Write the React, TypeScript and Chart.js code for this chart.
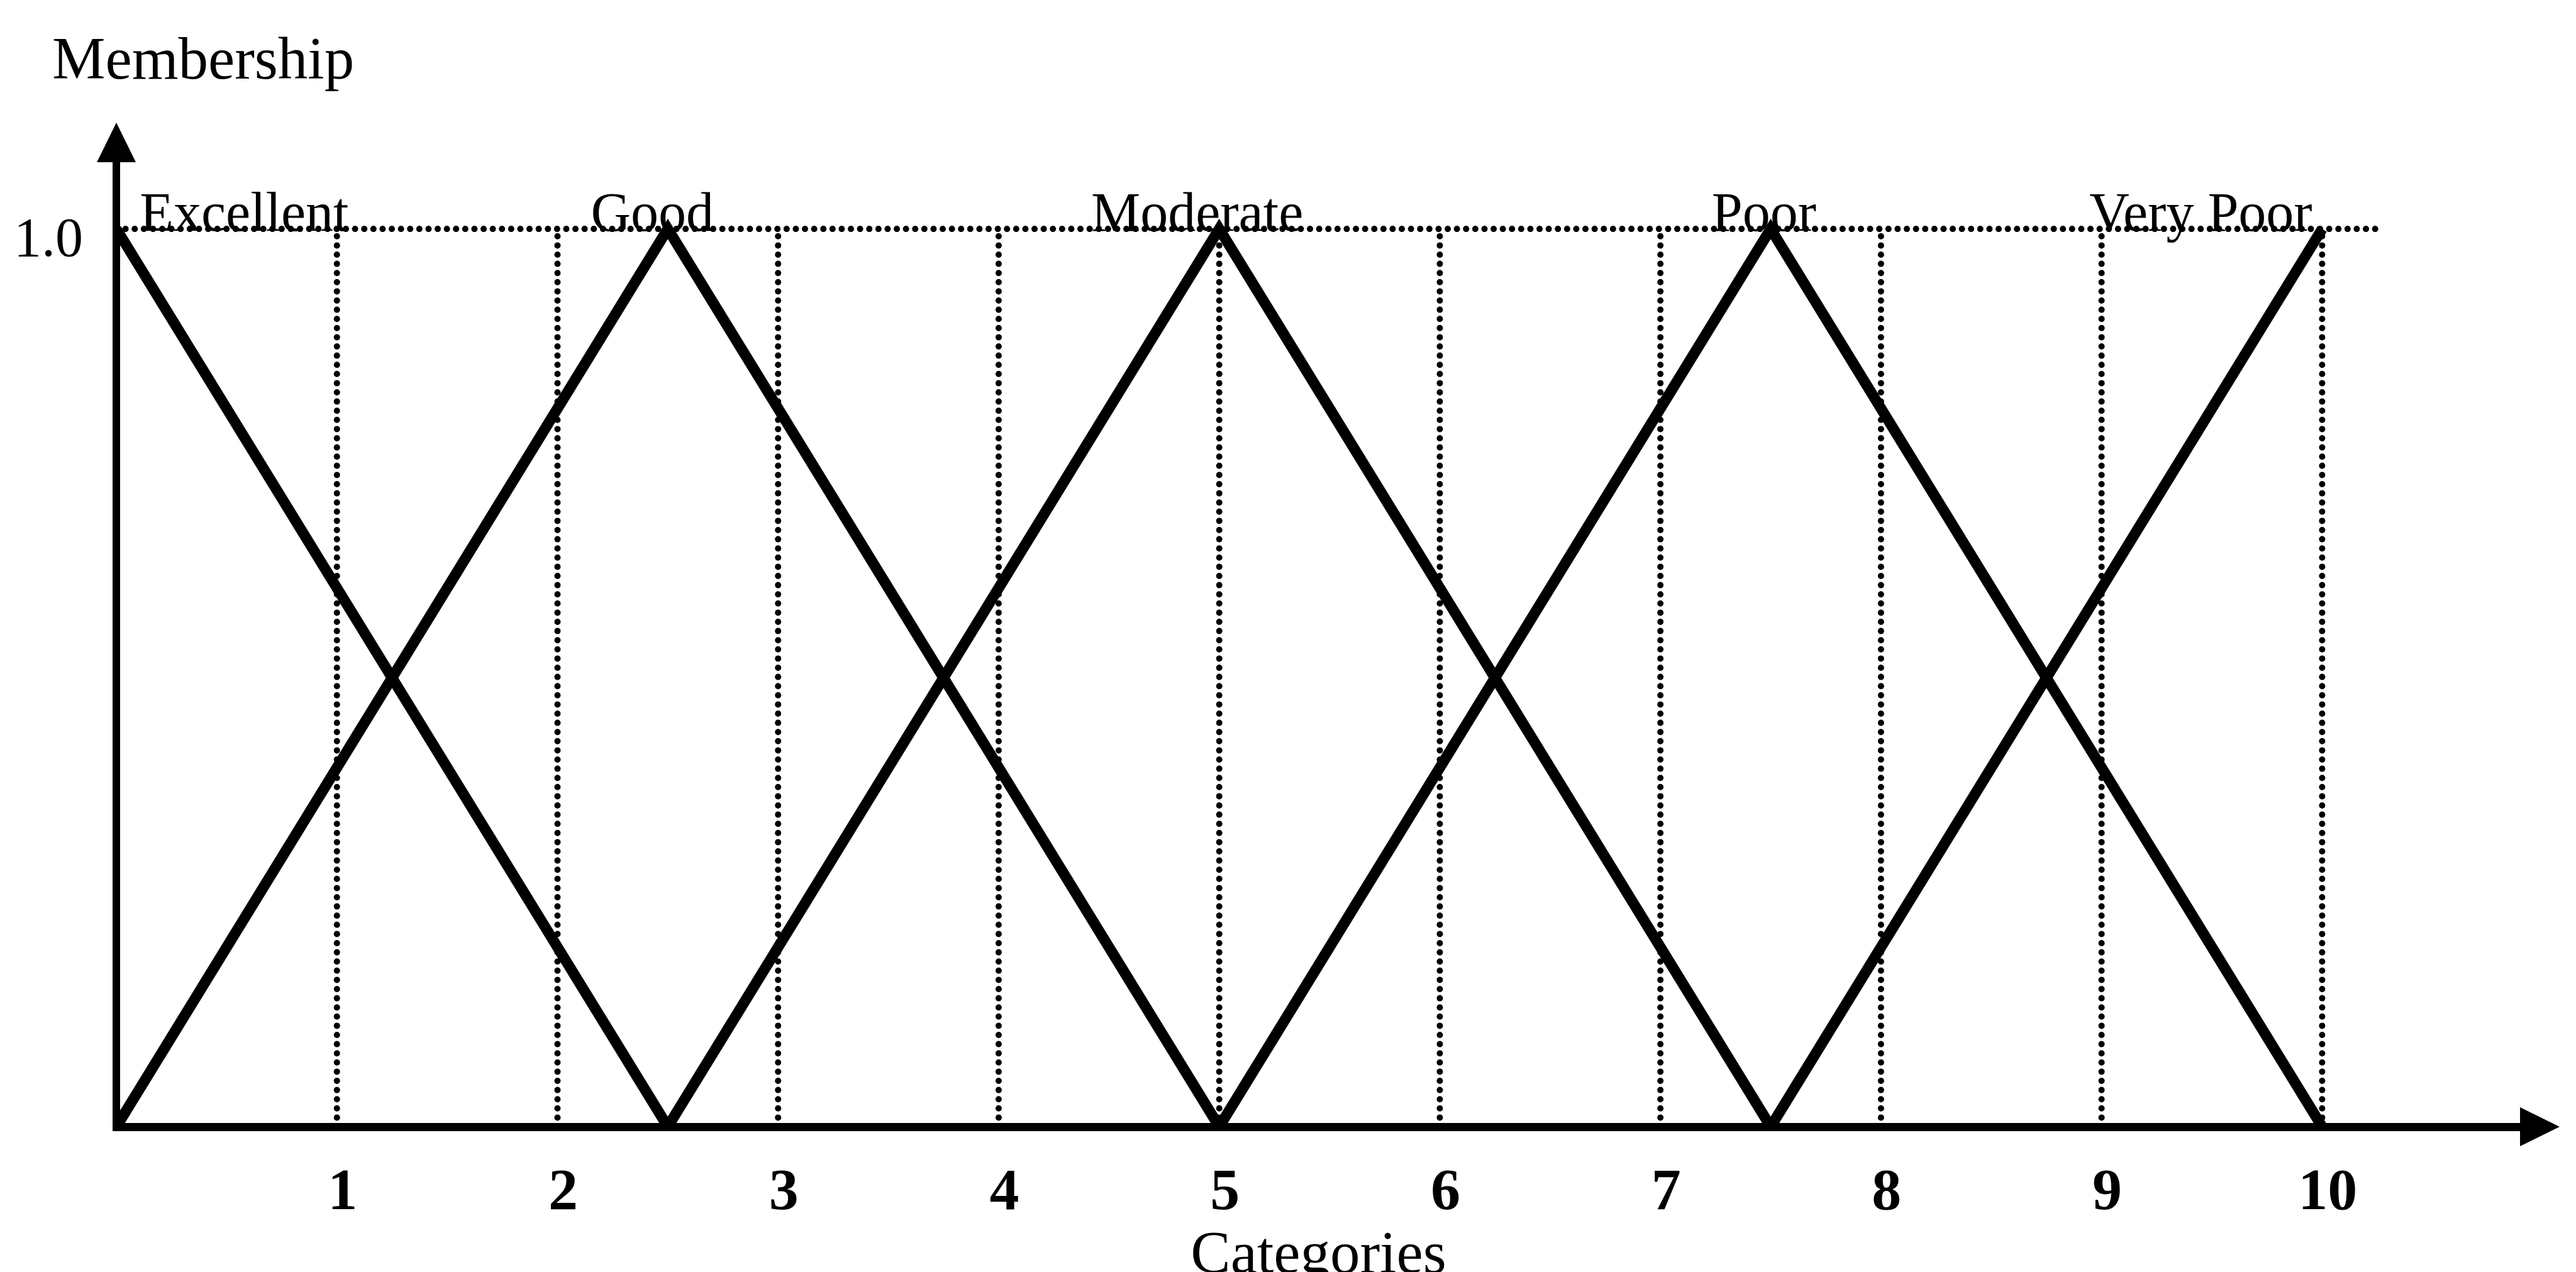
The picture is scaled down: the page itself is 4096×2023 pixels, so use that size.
import React, { useEffect, useRef } from "react";
import { Chart, registerables } from "chart.js";

Chart.register(...registerables);

// ---- data ----
const SET_NAMES = ["Excellent", "Good", "Moderate", "Poor", "Very Poor"];
const LABEL_X = [0.58, 2.43, 4.9, 7.47, 9.45];

const EXCELLENT_X = [0, 2.5];
const EXCELLENT_Y = [1, 0];
const GOOD_X = [0, 2.5, 5];
const GOOD_Y = [0, 1, 0];
const MODERATE_X = [2.5, 5, 7.5];
const MODERATE_Y = [0, 1, 0];
const POOR_X = [5, 7.5, 10];
const POOR_Y = [0, 1, 0];
const VERY_POOR_X = [7.5, 10];
const VERY_POOR_Y = [0, 1];

const X_TICKS = [1, 2, 3, 4, 5, 6, 7, 8, 9, 10];
const X_TICK_LABELS = ["1", "2", "3", "4", "5", "6", "7", "8", "9", "10"];
const Y_TICKS = [1];
const Y_TICK_LABELS = ["1.0"];

const FULL_LEVEL = 1;
const FULL_LEVEL_END = 10.27;

const X_MIN = 0;
const X_MAX = 10.9;
const Y_MIN = 0;
const Y_MAX = 1.075;

const X_TITLE = "Categories";
const Y_TITLE = "Membership";

const SERIF = '"Liberation Serif", "Times New Roman", Times, serif';

const pts = (xs: number[], ys: number[]) => xs.map((x, i) => ({ x, y: ys[i] }));

const thick = {
  borderColor: "#000",
  borderWidth: 17,
  pointRadius: 0,
  pointHoverRadius: 0,
  borderJoinStyle: "miter" as const,
  borderCapStyle: "butt" as const,
  fill: false,
  tension: 0,
};

const dotted = {
  borderColor: "#000",
  borderWidth: 10,
  borderDash: [0, 14.6],
  borderCapStyle: "round" as const,
  pointRadius: 0,
  pointHoverRadius: 0,
  fill: false,
  tension: 0,
};

const decorations = {
  id: "decorations",
  afterDraw(chart: any) {
    const { ctx, chartArea, scales } = chart;
    const xs = scales.x;
    const ys = scales.y;
    ctx.save();
    ctx.fillStyle = "#000";
    // y axis arrow head
    const ax = xs.getPixelForValue(0);
    ctx.beginPath();
    ctx.moveTo(ax, chartArea.top - 62);
    ctx.lineTo(ax - 31, chartArea.top + 1);
    ctx.lineTo(ax + 31, chartArea.top + 1);
    ctx.closePath();
    ctx.fill();
    // x axis arrow head
    const ay = ys.getPixelForValue(0);
    ctx.beginPath();
    ctx.moveTo(chartArea.right + 62, ay);
    ctx.lineTo(chartArea.right - 1, ay - 31);
    ctx.lineTo(chartArea.right - 1, ay + 31);
    ctx.closePath();
    ctx.fill();
    // set labels
    ctx.font = `88px ${SERIF}`;
    ctx.textAlign = "center";
    ctx.textBaseline = "alphabetic";
    const ly = ys.getPixelForValue(FULL_LEVEL) + 3;
    SET_NAMES.forEach((n, i) => {
      ctx.fillText(n, xs.getPixelForValue(LABEL_X[i]), ly);
    });
    // y axis title
    ctx.font = `95px ${SERIF}`;
    ctx.textAlign = "left";
    ctx.fillText(Y_TITLE, chartArea.left - 102, chartArea.top - 132);
    ctx.restore();
  },
};

export default function App() {
  const ref = useRef<HTMLCanvasElement>(null);

  useEffect(() => {
    document.body.style.margin = "0";
    document.body.style.overflow = "hidden";
    const datasets: any[] = [
      { label: SET_NAMES[0], data: pts(EXCELLENT_X, EXCELLENT_Y), ...thick },
      { label: SET_NAMES[1], data: pts(GOOD_X, GOOD_Y), ...thick },
      { label: SET_NAMES[2], data: pts(MODERATE_X, MODERATE_Y), ...thick },
      { label: SET_NAMES[3], data: pts(POOR_X, POOR_Y), ...thick },
      { label: SET_NAMES[4], data: pts(VERY_POOR_X, VERY_POOR_Y), ...thick },
      {
        label: "level 1.0",
        data: [
          { x: X_MIN, y: FULL_LEVEL },
          { x: FULL_LEVEL_END, y: FULL_LEVEL },
        ],
        ...dotted,
      },
      ...X_TICKS.map((v) => ({
        label: `guide ${v}`,
        data: [
          { x: v, y: Y_MIN },
          { x: v, y: FULL_LEVEL },
        ],
        ...dotted,
      })),
    ];

    const chart = new Chart(ref.current as HTMLCanvasElement, {
      type: "line",
      data: { datasets },
      plugins: [decorations],
      options: {
        responsive: false,
        devicePixelRatio: 1,
        animation: false,
        events: [],
        layout: { padding: { left: 0, right: 88, top: 257, bottom: 0 } },
        plugins: {
          legend: { display: false },
          tooltip: { enabled: false },
          title: { display: false },
        },
        scales: {
          x: {
            type: "linear",
            min: X_MIN,
            max: X_MAX,
            afterBuildTicks: (s: any) => {
              s.ticks = X_TICKS.map((v) => ({ value: v }));
            },
            afterFit: (s: any) => {
              s.height = 231;
            },
            grid: { display: false, drawTicks: false },
            border: { display: true, color: "#000", width: 13 },
            ticks: {
              autoSkip: false,
              maxRotation: 0,
              minRotation: 0,
              padding: 50,
              labelOffset: 9,
              color: "#000",
              font: { family: SERIF, size: 94, weight: "bold" },
              callback: (v: any) => X_TICK_LABELS[X_TICKS.indexOf(Number(v))] ?? "",
            },
            title: {
              display: true,
              text: X_TITLE,
              color: "#000",
              font: { family: SERIF, size: 95, lineHeight: 1 },
              padding: { top: 0, bottom: -24 },
            },
          },
          y: {
            type: "linear",
            min: Y_MIN,
            max: Y_MAX,
            afterBuildTicks: (s: any) => {
              s.ticks = Y_TICKS.map((v) => ({ value: v }));
            },
            afterFit: (s: any) => {
              s.width = 185;
            },
            grid: { display: false, drawTicks: false },
            border: { display: true, color: "#000", width: 12 },
            ticks: {
              padding: 53,
              labelOffset: 19.5,
              color: "#000",
              font: { family: SERIF, size: 88 },
              callback: (v: any) => Y_TICK_LABELS[Y_TICKS.indexOf(Number(v))] ?? "",
            },
          },
        },
      } as any,
    });
    return () => chart.destroy();
  }, []);

  return (
    <canvas
      ref={ref}
      width={4096}
      height={2023}
      style={{ display: "block", width: "4096px", height: "2023px" }}
    />
  );
}
